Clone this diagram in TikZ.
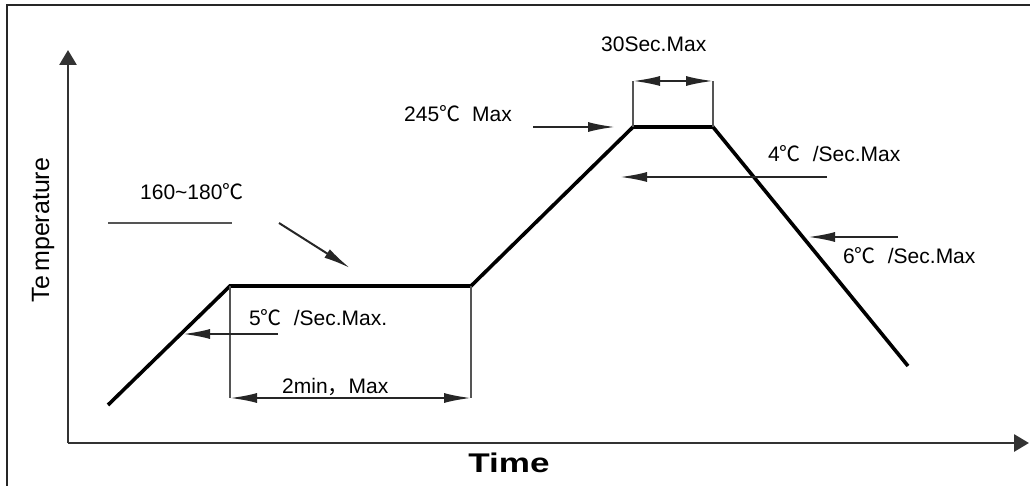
\documentclass[tikz,border=0pt]{standalone}
\usepackage{fontspec}
\setmainfont{Liberation Sans}
\newfontfamily\cjk{Noto Sans CJK SC}
\usetikzlibrary{arrows.meta}
\definecolor{axisgray}{HTML}{333333}
\definecolor{boxgray}{HTML}{555555}
\newcommand{\degc}{{\cjk ℃}\hspace{12pt}}
\begin{document}
\begin{tikzpicture}[x=1pt,y=-1pt,
  lbl/.style={anchor=base west,inner sep=0pt,font=\fontsize{21}{24}\selectfont},
  profile/.style={line width=3.6pt,black,line join=miter},
  axisline/.style={line width=2.8pt,axisgray,-{Triangle[length=15pt,width=17pt]}},
  guide/.style={line width=2.8pt,boxgray},
  ptr/.style={line width=2pt,black!85,-{Latex[length=27pt,width=10pt]}},
  dbl/.style={line width=2pt,black!85,{Latex[length=27pt,width=10pt]}-{Latex[length=27pt,width=10pt]}},
  plain/.style={line width=2.8pt,boxgray}]
\useasboundingbox (0,0) rectangle (1030,486);
% frame (top and left edges)
\draw[line width=2.2pt,black!85] (7,486) -- (7,5) -- (1030,5);
% axes
\coordinate (O) at (68,443);
\coordinate (Ytop) at (68,50);
\coordinate (Xend) at (1029,443);
\draw[axisline] (68,443) -- (Ytop);
\draw[axisline] (O) -- (Xend);
\node[rotate=90,inner sep=0pt,font=\fontsize{25}{28}\selectfont] (ylab) at (43,230) {Te\,mperature};
\node[inner sep=0pt,font=\bfseries\fontsize{27}{30}\selectfont,xscale=1.3] (xlab) at (509,463) {Time};
% profile
\coordinate (p0) at (108,405);
\coordinate (p1) at (230,286);
\coordinate (p2) at (471,286);
\coordinate (p3) at (633,127);
\coordinate (p4) at (713,127);
\coordinate (p5) at (908,366);
\draw[profile] (p0) -- (p1) -- (p2) -- (p3) -- (p4) -- (p5);
% soak box
\coordinate (s1) at (230,398);
\coordinate (s2) at (471,398);
\draw[guide] (p1) -- (s1);
\draw[guide] (p2) -- (s2);
\draw[dbl] (s1) -- (s2);
% peak box
\coordinate (t1) at (633,81);
\coordinate (t2) at (713,81);
\coordinate (tm) at (673,81);
\draw[guide] (p3) -- (t1);
\draw[guide] (p4) -- (t2);
\draw[ptr] (tm) -- (t1);
\draw[ptr] (tm) -- (t2);
% labels
\node[lbl] (l160) at (140,200) {160\textasciitilde180{\cjk ℃}};
\node[lbl] (l245) at (404,122) {245\degc Max};
\node[lbl] (l30) at (601,52) {30Sec.Max};
\node[lbl] (l4) at (768,162) {4\degc/Sec.Max};
\node[lbl] (l6) at (843,263) {6\degc/Sec.Max};
\node[lbl] (l5) at (249,325) {5\degc/Sec.Max.};
\node[lbl] (l2) at (282,393) {2min{\cjk ，}Max};
% pointers
\coordinate (a160s) at (108,223);
\coordinate (a160e) at (232,223);
\draw[plain] (a160s) -- (a160e);
\coordinate (d1) at (279,223);
\coordinate (d2) at (350,268);
\draw[ptr] (d1) -- (d2);
\coordinate (b1) at (533,127);
\coordinate (b2) at (615,127);
\draw[ptr] (b1) -- (b2);
\coordinate (c1) at (827,177);
\coordinate (c2) at (620,177);
\draw[ptr] (c1) -- (c2);
\coordinate (e1) at (898,237);
\coordinate (e2) at (808,237);
\draw[ptr] (e1) -- (e2);
\coordinate (f1) at (278,334);
\coordinate (f2) at (183,334);
\draw[ptr] (f1) -- (f2);
\end{tikzpicture}
\end{document}
